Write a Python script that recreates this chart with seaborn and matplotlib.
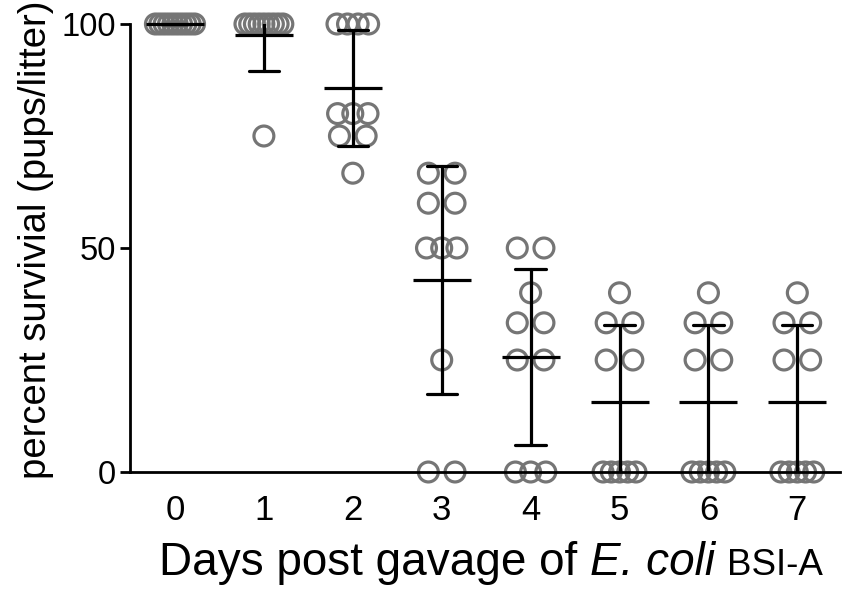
import numpy as np
import pandas as pd
import matplotlib
matplotlib.use("Agg")
import matplotlib.pyplot as plt
import seaborn as sns

# ---- data (percent survival per litter) ----
days = [0, 1, 2, 3, 4, 5, 6, 7]
day0 = [100, 100, 100, 100, 100, 100, 100, 100, 100, 100]
day1 = [100, 100, 100, 100, 100, 100, 100, 100, 100, 75]
day2 = [100, 100, 100, 100, 80, 80, 80, 75, 75, 66.7]
day3 = [66.7, 66.7, 60, 60, 50, 50, 50, 25, 0, 0]
day4 = [50, 50, 40, 33.3, 33.3, 25, 25, 0, 0, 0]
day5 = [40, 33.3, 33.3, 25, 25, 0, 0, 0, 0, 0]
day6 = [40, 33.3, 33.3, 25, 25, 0, 0, 0, 0, 0]
day7 = [40, 33.3, 33.3, 25, 25, 0, 0, 0, 0, 0]
survival = [day0, day1, day2, day3, day4, day5, day6, day7]
y_ticks = [0, 50, 100]
x_labels = ["0", "1", "2", "3", "4", "5", "6", "7"]

sns.set_theme(style="ticks")
plt.rcParams["font.family"] = ["Liberation Sans", "DejaVu Sans"]

rows = []
for d, vals in zip(days, survival):
    for v in vals:
        rows.append((d, v))
df = pd.DataFrame(rows, columns=["day", "survival"])


def spread(g):
    n = len(g)
    span = min(0.3 * (n - 1), 0.3 + 0.014 * n) if n > 1 else 0.0
    return np.linspace(-span / 2, span / 2, n)


df["offset"] = df.groupby(["day", "survival"])["survival"].transform(spread)
df["xpos"] = df["day"] + df["offset"]

W, H = 846, 589
fig = plt.figure(figsize=(W / 100, H / 100), dpi=100)
ax = fig.add_axes([130 / W, 1 - 472 / H, 710 / W, 448 / H])

sns.scatterplot(data=df, x="xpos", y="survival", marker="o", s=205,
                linewidth=2.3, ax=ax, clip_on=False, legend=False)
pts = ax.collections[-1]
pts.set_facecolor("none")
pts.set_edgecolor("#757575")
pts.set_zorder(1)

sns.pointplot(data=df, x="day", y="survival", order=days, errorbar="sd",
              capsize=0.34, linestyle="none", marker="_", markersize=42,
              markeredgewidth=2.3, color="black",
              err_kws={"linewidth": 2.3}, ax=ax)
for ln in ax.lines:
    ln.set_zorder(3)
    if ln.get_marker() == "_":
        ln.set_clip_on(False)

ax.set_ylim(0, 100)
ax.set_xlim(-0.506, 7.48)
ax.set_yticks(y_ticks)
ax.set_yticklabels([str(t) for t in y_ticks])
ax.set_xticks(days)
ax.set_xticklabels(x_labels)
ax.set_xlabel("")
ax.set_ylabel("")
sns.despine(ax=ax)
for sp in ["left", "bottom"]:
    ax.spines[sp].set_linewidth(2.0)
    ax.spines[sp].set_color("black")
ax.tick_params(axis="y", length=7, width=2.0, pad=3, labelsize=23.5,
               colors="black")
ax.tick_params(axis="x", length=0, pad=16, labelsize=25, colors="black")

# y label
fig.text(36 / W, 1 - 240 / H, "percent survivial (pups/litter)", rotation=90,
         ha="center", va="center", fontsize=27.5, color="black")

# x label composed of three pieces
fig.canvas.draw()
r = fig.canvas.get_renderer()
pieces = [("Days post gavage of", "normal", 33),
          ("E. coli", "italic", 33),
          ("BSI-A", "normal", 26.5)]
base_y = 1 - 575 / H
texts = []
widths = []
for s, st, fs in pieces:
    t = fig.text(0, base_y, s, fontsize=fs, style=st, va="baseline",
                 ha="left", color="black")
    texts.append(t)
    widths.append(t.get_window_extent(r).width)
gap = 0.278 * 33 * 100 / 72
total = sum(widths) + 2 * gap
x0 = 491 - total / 2
for t, w in zip(texts, widths):
    t.set_x(x0 / W)
    x0 += w + gap

fig.savefig("out.png", dpi=100)
